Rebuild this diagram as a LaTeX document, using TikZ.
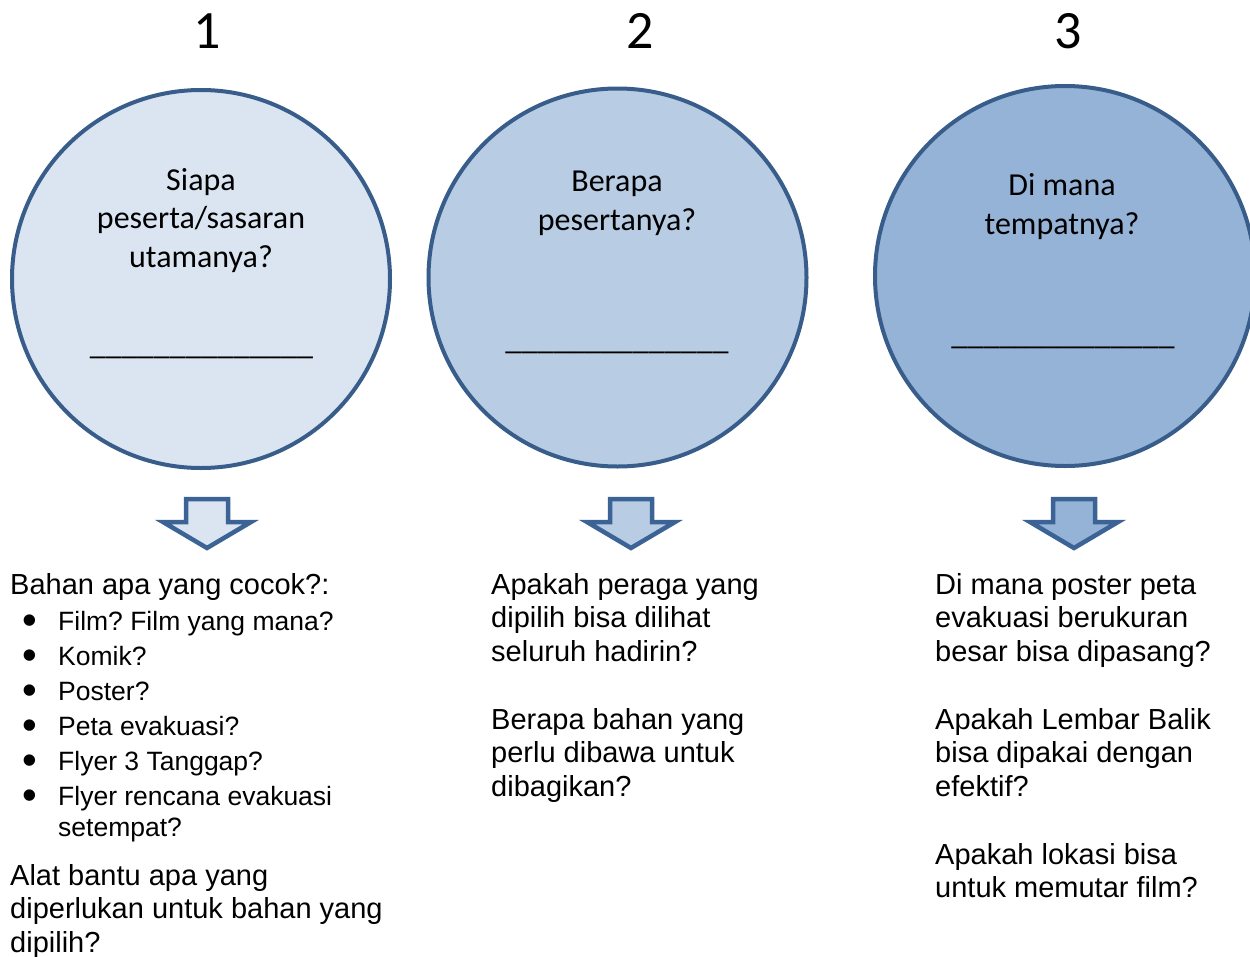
\documentclass[tikz,border=0pt]{standalone}
\usepackage{fontspec}
\setmainfont{Liberation Sans}
\newfontfamily\calib{Carlito}
\frenchspacing
\definecolor{edgeblue}{HTML}{385D8A}
\definecolor{arrowedge}{HTML}{3B6396}
\definecolor{fillA}{HTML}{DBE5F1}
\definecolor{fillB}{HTML}{B8CCE4}
\definecolor{fillC}{HTML}{95B3D7}
\tikzset{
  bigcirc/.style={draw=edgeblue, line width=4pt},
  downarrow/.style={draw=arrowedge, line width=4.5pt, miter limit=10},
  numlabel/.style={font=\calib\fontsize{54}{60}\selectfont, inner sep=0pt, anchor=base},
  circtext/.style={font=\calib\fontsize{32}{38.5}\selectfont, inner sep=0pt, anchor=base},
  bodytext/.style={font=\fontsize{29}{33.5}\selectfont, inner sep=0pt, anchor=base west},
  listtext/.style={font=\fontsize{26.5}{31}\selectfont, inner sep=0pt, anchor=base west},
  bullettext/.style={font=\fontsize{42}{44}\selectfont, inner sep=0pt, anchor=base},
}
\newcommand{\blankline}{\_\_\_\_\_\_\_\_\_\_\_\_\_\_}
\begin{document}
\frenchspacing
\begin{tikzpicture}[x=1pt,y=-1pt]
\useasboundingbox (0,0) rectangle (1250,956);
\fill[white] (0,0) rectangle (1250,956);

% numbers
\node[numlabel] (n1) at (207,48) {1};
\node[numlabel] (n2) at (640,48) {2};
\node[numlabel] (n3) at (1068,48) {3};

% circles
\draw[bigcirc, fill=fillA] (201,279) circle[radius=189];
\draw[bigcirc, fill=fillB] (617.5,277.5) circle[radius=189];
\draw[bigcirc, fill=fillC] (1065,276) circle[radius=190];

% circle texts
\node[circtext] (c1a) at (201,190) {Siapa};
\node[circtext] (c1b) at (201,228.5) {peserta/sasaran};
\node[circtext] (c1c) at (201,267) {utamanya?};
\node[circtext] (c1d) at (201.5,354) {\blankline};

\node[circtext] (c2a) at (617,191) {Berapa};
\node[circtext] (c2b) at (617,230) {pesertanya?};
\node[circtext] (c2d) at (617,349) {\blankline};

\node[circtext] (c3a) at (1062,195) {Di mana};
\node[circtext] (c3b) at (1062,234) {tempatnya?};
\node[circtext] (c3d) at (1063,344) {\blankline};

% arrows
\foreach \cx/\fc in {207/fillA, 631/fillB, 1074/fillC}{
  \draw[downarrow, fill=\fc] (\cx-21,499) -- (\cx+21,499) -- (\cx+21,522) -- (\cx+44,522)
     -- (\cx,548) -- (\cx-44,522) -- (\cx-21,522) -- cycle;
}

% column 1
\node[bodytext] (t1a) at (10,594) {Bahan apa yang cocok?:};
\node[bullettext] (b1) at (30,634) {•};
\node[listtext] (l1) at (58,630) {Film? Film yang mana?};
\node[bullettext] (b2) at (30,669) {•};
\node[listtext] (l2) at (58,665) {Komik?};
\node[bullettext] (b3) at (30,704) {•};
\node[listtext] (l3) at (58,700) {Poster?};
\node[bullettext] (b4) at (30,739) {•};
\node[listtext] (l4) at (58,735) {Peta evakuasi?};
\node[bullettext] (b5) at (30,774) {•};
\node[listtext] (l5) at (58,770) {Flyer 3 Tanggap?};
\node[bullettext] (b6) at (30,809) {•};
\node[listtext] (l6) at (58,805) {Flyer rencana evakuasi};
\node[listtext] (l6b) at (58,836) {setempat?};
\node[bodytext] (t1b) at (10,885) {Alat bantu apa yang};
\node[bodytext] (t1c) at (10,918.5) {diperlukan untuk bahan yang};
\node[bodytext] (t1d) at (10,952) {dipilih?};

% column 2
\node[bodytext] (t2a) at (491,594) {Apakah peraga yang};
\node[bodytext] (t2b) at (491,627.5) {dipilih bisa dilihat};
\node[bodytext] (t2c) at (491,661) {seluruh hadirin?};
\node[bodytext] (t2d) at (491,729) {Berapa bahan yang};
\node[bodytext] (t2e) at (491,762.5) {perlu dibawa untuk};
\node[bodytext] (t2f) at (491,796) {dibagikan?};

% column 3
\node[bodytext] (t3a) at (935,594) {Di mana poster peta};
\node[bodytext] (t3b) at (935,627.5) {evakuasi berukuran};
\node[bodytext] (t3c) at (935,661) {besar bisa dipasang?};
\node[bodytext] (t3d) at (935,729) {Apakah Lembar Balik};
\node[bodytext] (t3e) at (935,762.5) {bisa dipakai dengan};
\node[bodytext] (t3f) at (935,796) {efektif?};
\node[bodytext] (t3g) at (935,864) {Apakah lokasi bisa};
\node[bodytext] (t3h) at (935,897.5) {untuk memutar film?};
\end{tikzpicture}
\end{document}
